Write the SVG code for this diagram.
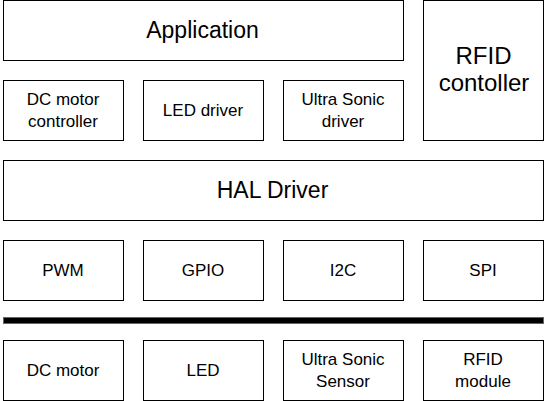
<svg xmlns="http://www.w3.org/2000/svg" width="547" height="401" viewBox="0 0 547 401">
<style>
.b{fill:#fff;stroke:#000;stroke-width:1}
.t{font-family:"Liberation Sans",Arial,sans-serif;fill:#000;text-anchor:middle}
.s{font-size:17px}
.l{font-size:23px}
.r{font-size:24px}
</style>
<rect x="0" y="0" width="547" height="401" fill="#fff"/>
<g id="application"><rect class="b" x="3.5" y="0.5" width="400" height="60"/><text class="t l" x="202.5" y="37.5">Application</text></g>
<g id="rfid-controller"><rect class="b" x="423.5" y="0.5" width="120" height="140"/><text class="t r" x="483.5" y="63.5">RFID</text><text class="t r" x="484" y="90.5">contoller</text></g>
<g id="dc-motor-controller"><rect class="b" x="3.5" y="80.5" width="120" height="60"/><text class="t s" x="63" y="105">DC motor</text><text class="t s" x="63" y="126.7">controller</text></g>
<g id="led-driver"><rect class="b" x="143.5" y="80.5" width="120" height="60"/><text class="t s" x="203" y="115.8">LED driver</text></g>
<g id="ultrasonic-driver"><rect class="b" x="283.5" y="80.5" width="120" height="60"/><text class="t s" x="343" y="105">Ultra Sonic</text><text class="t s" x="343" y="126.7">driver</text></g>
<g id="hal-driver"><rect class="b" x="3.5" y="160.5" width="540" height="60"/><text class="t l" x="272.5" y="198.3">HAL Driver</text></g>
<g id="pwm"><rect class="b" x="3.5" y="240.5" width="120" height="60"/><text class="t s" x="63" y="276.3">PWM</text></g>
<g id="gpio"><rect class="b" x="143.5" y="240.5" width="120" height="60"/><text class="t s" x="203" y="276.3">GPIO</text></g>
<g id="i2c"><rect class="b" x="283.5" y="240.5" width="120" height="60"/><text class="t s" x="343" y="276.3">I2C</text></g>
<g id="spi"><rect class="b" x="423.5" y="240.5" width="120" height="60"/><text class="t s" x="483" y="276.3">SPI</text></g>
<g id="connectors"><rect x="3.5" y="317.5" width="540" height="6" fill="#000" stroke="#666" stroke-width="1"/></g>
<g id="dc-motor"><rect class="b" x="3.5" y="340.5" width="120" height="60"/><text class="t s" x="63" y="376.3">DC motor</text></g>
<g id="led"><rect class="b" x="143.5" y="340.5" width="120" height="60"/><text class="t s" x="203" y="376.3">LED</text></g>
<g id="ultrasonic-sensor"><rect class="b" x="283.5" y="340.5" width="120" height="60"/><text class="t s" x="343" y="365">Ultra Sonic</text><text class="t s" x="343" y="387">Sensor</text></g>
<g id="rfid-module"><rect class="b" x="423.5" y="340.5" width="120" height="60"/><text class="t s" x="483" y="365">RFID</text><text class="t s" x="483" y="387">module</text></g>
</svg>
